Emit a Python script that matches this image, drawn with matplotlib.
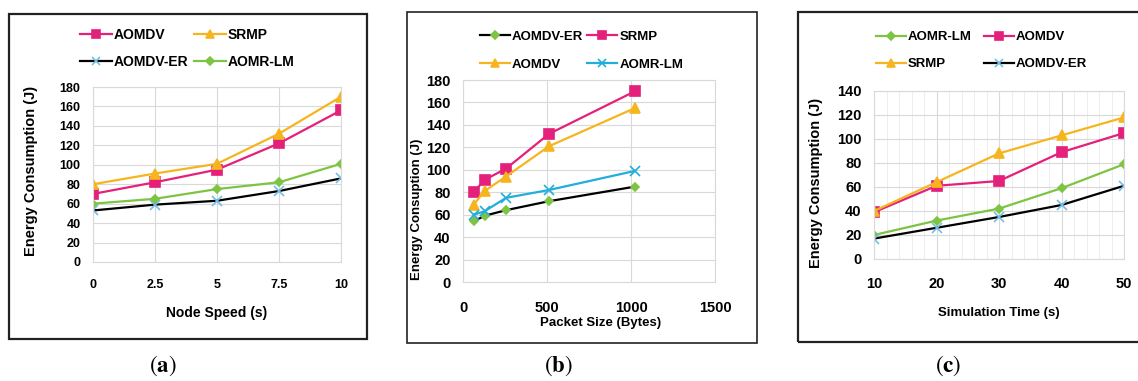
import matplotlib
matplotlib.use('Agg')
import matplotlib.pyplot as plt
from matplotlib import font_manager
from matplotlib.patches import Rectangle
from matplotlib.ticker import MultipleLocator

# (a) energy vs node speed
speed = [0, 2.5, 5, 7.5, 10]
a_aomdv = [70, 82, 95, 122, 156]
a_srmp = [80, 91, 101, 132, 170]
a_er = [53, 59, 63, 73, 86]
a_lm = [60, 65, 75, 82, 101]

# (b) energy vs packet size
pkt = [64, 128, 256, 512, 1024]
b_er = [54, 59, 64, 72, 85]
b_srmp = [80, 91, 101, 132, 170]
b_aomdv = [69, 81, 94, 121, 155]
b_lm = [60, 63, 75, 82, 99]

# (c) energy vs simulation time
sim = [10, 20, 30, 40, 50]
c_lm = [20, 32, 42, 59, 79]
c_aomdv = [39, 61, 65, 89, 105]
c_srmp = [40, 64, 88, 103, 118]
c_er = [17, 26, 35, 45, 61]

PINK = '#E4207A'
ORANGE = '#F6B51E'
GREEN = '#7DC443'
CYAN = '#22AEDD'
LBLUE = '#74BDE3'
GRID = '#D9D9D9'

names = {f.name for f in font_manager.fontManager.ttflist}
SANS = 'Liberation Sans' if 'Liberation Sans' in names else 'DejaVu Sans'

W, H = 1138, 381
fig = plt.figure(figsize=(W / 100, H / 100), dpi=100)


def px_axes(x0, y0, x1, y1):
    # pixel box (top-left origin) -> axes
    return fig.add_axes([x0 / W, 1 - y1 / H, (x1 - x0) / W, (y1 - y0) / H])


def style(ax, fs, xpad):
    for s in ax.spines.values():
        s.set_color(GRID)
        s.set_linewidth(0.8)
    ax.grid(True, color=GRID, linewidth=0.8)
    ax.set_axisbelow(True)
    ax.tick_params(length=0, labelsize=fs)
    ax.tick_params(axis='y', pad=9)
    ax.tick_params(axis='x', pad=xpad)
    for lab in ax.get_xticklabels() + ax.get_yticklabels():
        lab.set_fontfamily(SANS)
        lab.set_fontweight('bold')


def series(ax, x, y, color, marker, mcolor=None, ms=6, label=None):
    return ax.plot(x, y, color=color, lw=1.6, marker=marker, ms=ms,
                   mfc=mcolor or color, mec=mcolor or color, mew=1.2,
                   label=label)[0]


def frame(x0, y0, x1, y1, lw):
    fig.patches.append(Rectangle((x0 / W, 1 - y1 / H), (x1 - x0) / W, (y1 - y0) / H,
                                 transform=fig.transFigure, fill=False,
                                 edgecolor='#222222', linewidth=lw))


def caption(x, letter):
    fig.text(x / W, 1 - 366 / H, r'$(\mathbf{%s})$' % letter, ha='center', va='center',
             fontsize=16.5, math_fontfamily='stix')


def legend(ax, handles, labels, fs, anchor, cs, ls):
    ax.legend(handles, labels, ncol=2, loc='center', bbox_to_anchor=anchor,
              frameon=False, prop={'family': SANS, 'weight': 'bold', 'size': fs},
              handlelength=2.3, handletextpad=0.15, columnspacing=cs,
              labelspacing=ls, borderpad=0, markerscale=0.8)


# ---------- (a) ----------
frame(9, 14, 367, 339, 1.6)
ax = px_axes(93, 87, 341, 262)
h1 = series(ax, speed, a_aomdv, PINK, 's', ms=7, label='AOMDV')
h2 = series(ax, speed, a_srmp, ORANGE, '^', ms=7, label='SRMP')
h3 = series(ax, speed, a_er, 'black', 'x', LBLUE, ms=7, label='AOMDV-ER')
h4 = series(ax, speed, a_lm, GREEN, 'D', ms=4.5, label='AOMR-LM')
ax.set_xlim(0, 10)
ax.set_ylim(0, 180)
ax.set_xticks(speed)
ax.set_xticklabels(['0', '2.5', '5', '7.5', '10'])
ax.yaxis.set_major_locator(MultipleLocator(20))
style(ax, 9, 12)
ax.set_xlabel('Node Speed (s)', fontsize=10, fontweight='bold', family=SANS)
ax.xaxis.set_label_coords(0.5, -0.29)
ax.xaxis.label.set_va('center')
ax.set_ylabel('Energy Consumption (J)', fontsize=10.5, fontweight='bold', family=SANS)
ax.yaxis.set_label_coords(-0.222, 0.52)
legend(ax, [h1, h3, h2, h4], ['AOMDV', 'AOMDV-ER', 'SRMP', 'AOMR-LM'], 10,
       (0.38, 1.22), 0.4, 0.9)
caption(163, 'a')

# ---------- (b) ----------
frame(407, 12, 757, 343, 1.2)
ax = px_axes(463, 80, 715, 282)
h1 = series(ax, pkt, b_er, 'black', 'D', GREEN, ms=4.5, label='AOMDV-ER')
h2 = series(ax, pkt, b_srmp, PINK, 's', ms=7, label='SRMP')
h3 = series(ax, pkt, b_aomdv, ORANGE, '^', ms=7, label='AOMDV')
h4 = series(ax, pkt, b_lm, CYAN, 'x', ms=7, label='AOMR-LM')
ax.set_xlim(0, 1500)
ax.set_ylim(0, 180)
ax.xaxis.set_major_locator(MultipleLocator(500))
ax.yaxis.set_major_locator(MultipleLocator(20))
style(ax, 10.5, 14)
ax.set_xlabel('Packet Size (Bytes)', fontsize=9.5, fontweight='bold', family=SANS)
ax.xaxis.set_label_coords(0.544, -0.203)
ax.xaxis.label.set_va('center')
ax.set_ylabel('Energy Consuption (J)', fontsize=9.5, fontweight='bold', family=SANS)
ax.yaxis.set_label_coords(-0.159, 0.36)
legend(ax, [h1, h3, h2, h4], ['AOMDV-ER', 'AOMDV', 'SRMP', 'AOMR-LM'], 9.5,
       (0.47, 1.145), 0.3, 1.2)
caption(558, 'b')

# ---------- (c) ----------
frame(798, 12, 1150, 342, 1.6)
ax = px_axes(874, 91, 1124, 259)
h1 = series(ax, sim, c_lm, GREEN, 'D', ms=4.5, label='AOMR-LM')
h2 = series(ax, sim, c_aomdv, PINK, 's', ms=7, label='AOMDV')
h3 = series(ax, sim, c_srmp, ORANGE, '^', ms=7, label='SRMP')
h4 = series(ax, sim, c_er, 'black', 'x', LBLUE, ms=7, label='AOMDV-ER')
ax.set_xlim(10, 50)
ax.set_ylim(0, 140)
ax.set_xticks(sim)
ax.xaxis.set_minor_locator(MultipleLocator(2))
ax.yaxis.set_major_locator(MultipleLocator(20))
ax.grid(True, which='minor', axis='x', color='#EDEDED', linewidth=0.7)
style(ax, 10.5, 13)
ax.tick_params(which='minor', length=0)
ax.set_xlabel('Simulation Time (s)', fontsize=9.5, fontweight='bold', family=SANS)
ax.xaxis.set_label_coords(0.5, -0.32)
ax.xaxis.label.set_va('center')
ax.set_ylabel('Energy Consumption (J)', fontsize=10.5, fontweight='bold', family=SANS)
ax.yaxis.set_label_coords(-0.204, 0.45)
legend(ax, [h1, h3, h2, h4], ['AOMR-LM', 'SRMP', 'AOMDV', 'AOMDV-ER'], 9.5,
       (0.43, 1.24), 0.9, 1.14)
caption(948, 'c')

plt.savefig('out.png', dpi=100)
